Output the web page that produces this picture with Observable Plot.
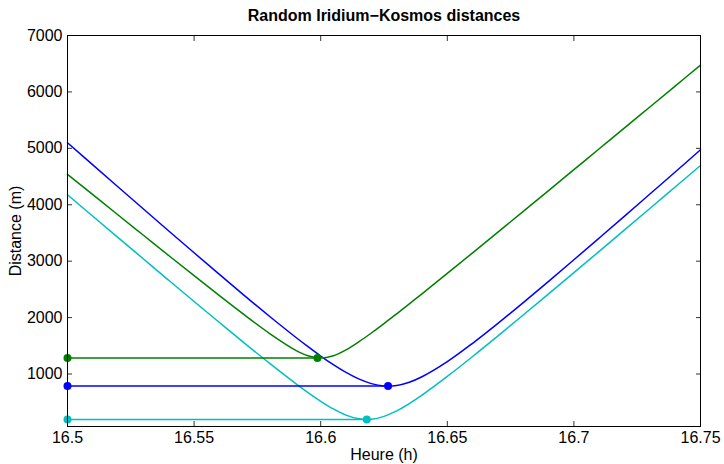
<!DOCTYPE html>
<html>
<head>
<meta charset="utf-8">
<script src="https://cdn.jsdelivr.net/npm/d3@7"></script>
<script src="https://cdn.jsdelivr.net/npm/@observablehq/plot@0.6"></script>
<style>
  html, body { margin: 0; padding: 0; background: #fff; }
</style>
</head>
<body>
<div id="chart"></div>
<script>
// Time (hours) samples
const hours = [16.50, 16.51, 16.52, 16.53, 16.54, 16.55, 16.56, 16.57, 16.58, 16.59,
  16.595, 16.60, 16.605, 16.61, 16.615, 16.62, 16.625, 16.63, 16.635, 16.64,
  16.65, 16.66, 16.67, 16.68, 16.69, 16.70, 16.71, 16.72, 16.73, 16.74, 16.75];

// Distances (m)
const blueDist = [5100, 4707, 4315, 3925, 3536, 3149, 2765, 2386, 2015, 1656,
  1484, 1319, 1166, 1028, 913, 830, 790, 798, 855, 951,
  1219, 1545, 1898, 2266, 2643, 3025, 3411, 3799, 4190, 4581, 4974];
const greenDist = [4540, 4179, 3818, 3459, 3100, 2743, 2390, 2043, 1713, 1424,
  1323, 1284, 1325, 1429, 1569, 1727, 1894, 2067, 2243, 2422,
  2783, 3148, 3515, 3883, 4252, 4622, 4992, 5362, 5733, 6104, 6475];
const cyanDist = [4178, 3797, 3417, 3039, 2661, 2285, 1913, 1544, 1183, 835,
  671, 517, 381, 272, 207, 198, 249, 347, 477, 626,
  958, 1311, 1676, 2046, 2420, 2797, 3175, 3554, 3934, 4315, 4696];

// Closest approach of each pair
const seriesNames = ["blue", "green", "cyan"];
const minHour = [16.6266, 16.5987, 16.6182];
const minDist = [787, 1284, 194];

const xTicks = [16.5, 16.55, 16.6, 16.65, 16.7, 16.75];
const yTicks = [1000, 2000, 3000, 4000, 5000, 6000, 7000];

const colors = {blue: "#0000ff", green: "#008000", cyan: "#00bfbf"};
const dists = {blue: blueDist, green: greenDist, cyan: cyanDist};

const lineRows = seriesNames.flatMap(s => hours.map((h, i) => ({s, h, d: dists[s][i]})));
const minRows = seriesNames.map((s, i) => ({s, h0: hours[0], h: minHour[i], d: minDist[i]}));
const dotRows = minRows.flatMap(r => [{s: r.s, h: r.h0, d: r.d}, {s: r.s, h: r.h, d: r.d}]);

const fmt = d => String(+d.toFixed(2));

const chart = Plot.plot({
  width: 724,
  height: 464,
  marginLeft: 67,
  marginRight: 24,
  marginTop: 35,
  marginBottom: 38,
  style: {fontFamily: "'Liberation Sans', Arial, Helvetica, sans-serif", fontSize: "16px", color: "#000", background: "#fff"},
  x: {domain: [16.5, 16.75]},
  y: {domain: [70, 7000]},
  marks: [
    Plot.axisX({ticks: xTicks, tickFormat: fmt, tickSize: -5, tickPadding: 10, label: null, stroke: "#333", fontSize: 16}),
    Plot.axisX({anchor: "top", ticks: xTicks, tickFormat: () => "", tickSize: -5, label: null, stroke: "#333"}),
    Plot.axisY({ticks: yTicks, tickFormat: d => String(d), tickSize: -5, tickPadding: 10, label: null, stroke: "#333", fontSize: 16}),
    Plot.axisY({anchor: "right", ticks: yTicks, tickFormat: () => "", tickSize: -5, label: null, stroke: "#333"}),
    Plot.line(lineRows, {x: "h", y: "d", z: "s", stroke: d => colors[d.s], strokeWidth: 1.5, curve: "catmull-rom"}),
    Plot.link(minRows, {x1: "h0", x2: "h", y1: "d", y2: "d", stroke: d => colors[d.s], strokeWidth: 1.5}),
    Plot.dot(dotRows, {x: "h", y: "d", r: 4, fill: d => colors[d.s], stroke: "none"}),
    Plot.frame({stroke: "#000", strokeWidth: 1}),
    Plot.text(["Random Iridium\u2212Kosmos distances"], {frameAnchor: "top", dy: -20, lineAnchor: "middle", textAnchor: "middle", fontWeight: "bold", fontSize: 16}),
    Plot.text(["Heure (h)"], {frameAnchor: "bottom", dy: 28, lineAnchor: "middle", textAnchor: "middle", fontSize: 16}),
    Plot.text(["Distance (m)"], {frameAnchor: "left", dx: -52, rotate: -90, lineAnchor: "middle", textAnchor: "middle", fontSize: 16})
  ]
});
document.getElementById("chart").append(chart);
</script>
</body>
</html>
